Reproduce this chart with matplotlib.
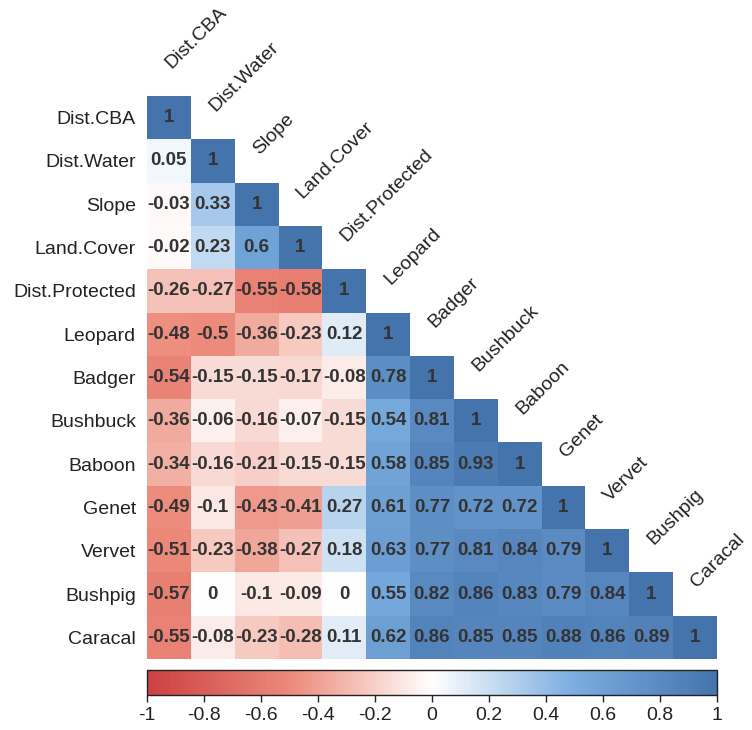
import numpy as np
import matplotlib
matplotlib.use("Agg")
import matplotlib.pyplot as plt
from matplotlib.colors import LinearSegmentedColormap

plt.rcParams['font.family'] = ['Liberation Sans', 'DejaVu Sans']

# variable names (rows top to bottom, columns left to right)
labels = ['Dist.CBA', 'Dist.Water', 'Slope', 'Land.Cover', 'Dist.Protected',
          'Leopard', 'Badger', 'Bushbuck', 'Baboon', 'Genet', 'Vervet',
          'Bushpig', 'Caracal']

# lower triangle of the correlation matrix, one list per row
r_dist_cba = [1]
r_dist_water = [0.05, 1]
r_slope = [-0.03, 0.33, 1]
r_land_cover = [-0.02, 0.23, 0.6, 1]
r_dist_protected = [-0.26, -0.27, -0.55, -0.58, 1]
r_leopard = [-0.48, -0.5, -0.36, -0.23, 0.12, 1]
r_badger = [-0.54, -0.15, -0.15, -0.17, -0.08, 0.78, 1]
r_bushbuck = [-0.36, -0.06, -0.16, -0.07, -0.15, 0.54, 0.81, 1]
r_baboon = [-0.34, -0.16, -0.21, -0.15, -0.15, 0.58, 0.85, 0.93, 1]
r_genet = [-0.49, -0.1, -0.43, -0.41, 0.27, 0.61, 0.77, 0.72, 0.72, 1]
r_vervet = [-0.51, -0.23, -0.38, -0.27, 0.18, 0.63, 0.77, 0.81, 0.84, 0.79, 1]
r_bushpig = [-0.57, 0, -0.1, -0.09, 0, 0.55, 0.82, 0.86, 0.83, 0.79, 0.84, 1]
r_caracal = [-0.55, -0.08, -0.23, -0.28, 0.11, 0.62, 0.86, 0.85, 0.85, 0.88, 0.86, 0.89, 1]

colorbar_ticks = [-1, -0.8, -0.6, -0.4, -0.2, 0, 0.2, 0.4, 0.6, 0.8, 1]

rows = [r_dist_cba, r_dist_water, r_slope, r_land_cover, r_dist_protected,
        r_leopard, r_badger, r_bushbuck, r_baboon, r_genet, r_vervet,
        r_bushpig, r_caracal]

n = len(labels)
mat = np.full((n, n), np.nan)
for i, row in enumerate(rows):
    mat[i, :len(row)] = row
mat = np.ma.masked_invalid(mat)

cmap = LinearSegmentedColormap.from_list(
    'corr', ['#CC4043', '#EC8A7A', '#FFFFFF', '#7AADE0', '#4574AD'])

fig = plt.figure(figsize=(7.52, 7.30), dpi=100)
ax = fig.add_axes([147 / 752, 1 - 659 / 730, 570 / 752, 563 / 730])

mesh = ax.pcolormesh(np.arange(n + 1) - 0.5, np.arange(n + 1) - 0.5, mat,
                     cmap=cmap, vmin=-1, vmax=1)
ax.set_xlim(-0.5, n - 0.5)
ax.set_ylim(n - 0.5, -0.5)

for i in range(n):
    for j in range(i + 1):
        v = mat[i, j]
        ax.text(j, i, f"{v:g}", ha='center', va='center', fontsize=13.5,
                fontweight='bold', color='#333333')

ax.set_yticks(range(n))
ax.set_yticklabels(labels, fontsize=14, color='#222222')
ax.tick_params(axis='y', length=0, pad=8)
ax.set_xticks([])
for s in ax.spines.values():
    s.set_visible(False)

# rotated column labels along the diagonal
for j, lab in enumerate(labels):
    ax.text(j + 0.05, j - 1.13, lab, rotation=45, rotation_mode='anchor',
            ha='left', va='baseline', fontsize=14, color='#222222',
            clip_on=False)

cax = fig.add_axes([147 / 752, 1 - 695 / 730, 570 / 752, 25 / 730])
cb = fig.colorbar(mesh, cax=cax, orientation='horizontal', ticks=colorbar_ticks)
cb.ax.set_xticklabels([f"{t:g}" for t in colorbar_ticks])
cb.ax.tick_params(labelsize=14, length=5, width=1, color='#222222',
                  labelcolor='#222222')
cb.outline.set_edgecolor('#222222')
cb.outline.set_linewidth(1)

fig.savefig('out.png', dpi=100)
